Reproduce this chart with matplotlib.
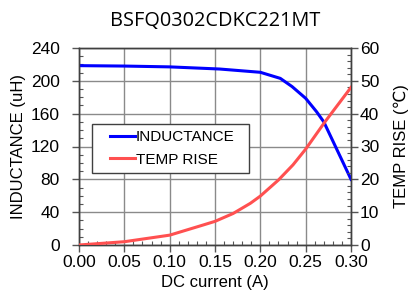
import matplotlib
matplotlib.use("Agg")
import matplotlib.pyplot as plt
from matplotlib.ticker import MultipleLocator
from matplotlib.legend_handler import HandlerLine2D
from matplotlib.lines import Line2D

current = [0.0, 0.05, 0.10, 0.155, 0.20, 0.222, 0.235, 0.25, 0.262, 0.27, 0.30]
inductance = [218.5, 218.0, 217.0, 214.4, 210.4, 203.0, 193.0, 178.7, 162.4, 150.0, 80.0]

current_t = [0.0, 0.05, 0.10, 0.1335, 0.15, 0.17, 0.189, 0.20, 0.22, 0.236, 0.25, 0.271, 0.30]
temp_rise = [0.0, 1.0, 3.0, 5.8, 7.2, 9.6, 12.7, 14.9, 19.8, 24.4, 29.2, 37.4, 48.0]

title = "BSFQ0302CDKC221MT"
xlabel = "DC current (A)"
ylabel_left = "INDUCTANCE (uH)"
ylabel_right = "TEMP RISE (\u2103)"

fam = ["Liberation Sans", "DejaVu Sans"]
plt.rcParams["font.family"] = fam

fig = plt.figure(figsize=(4.10, 2.97), dpi=100)
ax = fig.add_axes([79/410, 52/297, 272/410, 197/297])
ax2 = ax.twinx()

ax.plot(current, inductance, color="#0000FF", lw=2.2, label="INDUCTANCE", zorder=3,
        solid_joinstyle="round")
ax2.plot(current_t, temp_rise, color="#FF5050", lw=2.2, label="TEMP RISE", zorder=3,
         solid_joinstyle="round")

ax.set_xlim(0, 0.30)
ax.set_ylim(0, 240)
ax2.set_ylim(0, 60)
ax.xaxis.set_major_locator(MultipleLocator(0.05))
ax.xaxis.set_minor_locator(MultipleLocator(0.01))
ax.yaxis.set_major_locator(MultipleLocator(40))
ax.yaxis.set_minor_locator(MultipleLocator(10))
ax2.yaxis.set_major_locator(MultipleLocator(10))
ax2.yaxis.set_minor_locator(MultipleLocator(2))
ax.xaxis.set_major_formatter(plt.FuncFormatter(lambda v, p: f"{v:.2f}"))

ax.grid(True, which="major", color="#8a8a8a", lw=1.0)
ax.set_axisbelow(True)

for a in (ax, ax2):
    a.tick_params(which="major", direction="out", length=5, width=1, color="#555555", labelsize=12.5)
    a.tick_params(which="minor", direction="in", length=3, width=0.8, color="#555555")
    for s in a.spines.values():
        s.set_color("#404040")
        s.set_linewidth(1.0)
ax.tick_params(axis="y", which="major", pad=9)
ax.tick_params(axis="x", which="major", pad=2)
ax2.tick_params(axis="y", which="major", pad=1.5)

ax.set_xlabel(xlabel, fontsize=12, labelpad=4)
ax.set_ylabel(ylabel_left, fontsize=12, labelpad=3)
ax2.set_ylabel(ylabel_right, fontsize=12, labelpad=10)

fig.text(215/410, 0.963, title, fontsize=14.3, family=["Open Sans", "DejaVu Sans"],
         ha="center", va="top")

h1, l1 = ax.get_legend_handles_labels()
h2, l2 = ax2.get_legend_handles_labels()
hm = {Line2D: HandlerLine2D(xpad=0.75)}
leg = ax2.legend(h1 + h2, l1 + l2, loc="upper left",
                 bbox_to_anchor=(13/272, 0.30, 157/272, (245-124)/197 - 0.30),
                 mode="expand", handler_map=hm,
                 fontsize=11, frameon=True, fancybox=False, edgecolor="#404040",
                 framealpha=1, handlelength=2.4, handletextpad=0.05, borderpad=0.4,
                 labelspacing=0.55, borderaxespad=0)
leg.get_frame().set_linewidth(1.0)
leg.set_zorder(5)

fig.savefig("out.png", dpi=100)
